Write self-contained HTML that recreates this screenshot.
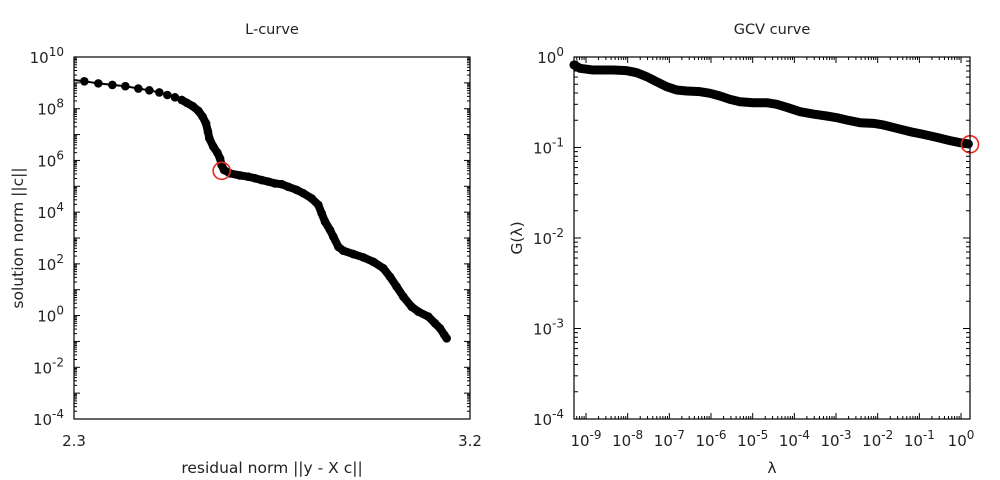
<!DOCTYPE html>
<html><head><meta charset="utf-8"><style>
html,body{margin:0;padding:0;background:#fff;}
svg{display:block;font-family:"DejaVu Sans","Liberation Sans",sans-serif;}
</style></head><body>
<svg id="c" width="1000" height="480" viewBox="0 0 1000 480">
<text x="272" y="34" font-size="14.5" text-anchor="middle" fill="#222">L-curve</text>
<text x="772" y="34" font-size="14.5" text-anchor="middle" fill="#222">GCV curve</text>
<text x="272" y="473" font-size="15.5" text-anchor="middle" fill="#222">residual norm ||y - X c||</text>
<text transform="translate(23,238) rotate(-90)" font-size="15.5" text-anchor="middle" fill="#222">solution norm ||c||</text>
<text x="772" y="473" font-size="15.5" text-anchor="middle" fill="#222">λ</text>
<text transform="translate(522,238) rotate(-90)" font-size="15.5" text-anchor="middle" fill="#222">G(λ)</text>
<g id="L"></g>
<g id="G"></g>
</svg>
<script>
// L-curve data: residual norm and log10 solution norm
const lResidual=[2.300,2.3235,2.3553,2.3871,2.4167,2.4462,2.4712,2.4939,2.5121,2.5295,2.5447,2.5561,2.5697,2.5826,2.5924,2.6000,2.6045,2.6076,2.6167,2.6258,2.6318,2.6356,2.6409,2.6545,2.6773,2.6962,2.7114,2.7265,2.7417,2.7568,2.7720,2.7871,2.8061,2.8212,2.8402,2.8553,2.8629,2.8705,2.8818,2.8894,2.9008,2.9121,2.9348,2.9576,2.9803,3.0030,3.0182,3.0333,3.0485,3.0674,3.0826,3.1053,3.1205,3.1318,3.1417,3.1470];
const lLogNorm=[9.11,9.06,8.98,8.92,8.87,8.78,8.71,8.63,8.53,8.44,8.34,8.23,8.10,7.92,7.69,7.43,7.11,6.85,6.53,6.30,6.08,5.82,5.63,5.50,5.42,5.37,5.31,5.24,5.18,5.11,5.08,4.98,4.86,4.73,4.53,4.28,3.95,3.63,3.31,3.05,2.66,2.51,2.38,2.25,2.08,1.83,1.50,1.12,0.73,0.34,0.15,-0.04,-0.30,-0.49,-0.75,-0.88];
const lKnee=[2.6356,5.60];
const lYTicks=[-4,-2,0,2,4,6,8,10];
const lXTicks=["2.3","3.2"];
// GCV data: log10 lambda and log10 G
const gLogLambda=[-9.288,-9.144,-8.824,-8.344,-8.024,-7.784,-7.544,-7.304,-7.064,-6.824,-6.584,-6.264,-6.024,-5.784,-5.544,-5.304,-4.984,-4.664,-4.424,-4.184,-3.864,-3.544,-3.224,-2.984,-2.744,-2.424,-2.104,-1.864,-1.544,-1.224,-0.904,-0.584,-0.264,-0.024,0.176];
const gLogG=[-0.088,-0.125,-0.144,-0.144,-0.151,-0.173,-0.217,-0.273,-0.328,-0.365,-0.376,-0.383,-0.401,-0.431,-0.468,-0.494,-0.505,-0.505,-0.523,-0.556,-0.604,-0.630,-0.652,-0.670,-0.696,-0.726,-0.733,-0.751,-0.788,-0.825,-0.855,-0.888,-0.924,-0.947,-0.961];
const gMin=[0.176,-0.965];
const gYTicks=[-4,-3,-2,-1,0];
const gXTicks=[-9,-8,-7,-6,-5,-4,-3,-2,-1,0];

const NS="http://www.w3.org/2000/svg";
function mk(p,t,a){const e=document.createElementNS(NS,t);for(const k in a)e.setAttribute(k,a[k]);p.appendChild(e);return e;}
function pow(p,x,y,exp,anchor){
  const t=mk(p,'text',{x:x,y:y,'font-size':15,fill:'#222','text-anchor':anchor});
  
  
  const a=mk(t,'tspan',{});a.textContent='10';
  const b=mk(t,'tspan',{dy:-7,'font-size':12});b.textContent=String(exp);
  return t;
}
// ---- L-curve ----
const L=document.getElementById('L');
const lx0=74,lx1=470,ly0=57,ly1=419;
const lxs=v=>lx0+(v-2.3)/(3.2-2.3)*(lx1-lx0);
const lys=v=>ly1-(v+4)/14*(ly1-ly0);
for(let d=-4;d<=10;d++){
  const y=lys(d);
  mk(L,'line',{x1:lx0,y1:y,x2:lx0+6,y2:y,stroke:'#000'});
  mk(L,'line',{x1:lx1,y1:y,x2:lx1-6,y2:y,stroke:'#000'});
  if(d<10)for(let m=2;m<=9;m++){const ym=lys(d+Math.log10(m));
    mk(L,'line',{x1:lx0,y1:ym,x2:lx0+3,y2:ym,stroke:'#000'});
    mk(L,'line',{x1:lx1,y1:ym,x2:lx1-3,y2:ym,stroke:'#000'});}
}
lYTicks.forEach(d=>pow(L,lx0-10,lys(d)+6,d,'end'));
lXTicks.forEach(s=>{const t=mk(L,'text',{x:lxs(parseFloat(s)),y:446,'font-size':15,fill:'#222','text-anchor':'middle'});t.textContent=s;
  
  });
let pts=lResidual.map((r,i)=>lxs(r)+','+lys(lLogNorm[i])).join(' ');
const lpl=mk(L,'polyline',{points:pts,fill:'none',stroke:'#000','stroke-width':2});


const lthick=mk(L,'polyline',{points:lResidual.slice(10).map((r,i)=>lxs(r)+','+lys(lLogNorm[i+10])).join(' '),fill:'none',stroke:'#000','stroke-width':8,'stroke-linejoin':'round','stroke-linecap':'round'});


lResidual.forEach((r,i)=>{if(i===0)return;const c=mk(L,'circle',{cx:lxs(r),cy:lys(lLogNorm[i]),r:4.3,fill:'#000'});
  
  });
const lk=mk(L,'circle',{cx:lxs(lKnee[0]),cy:lys(lKnee[1]),r:8.5,fill:'none',stroke:'#e8281e','stroke-width':1.6});


mk(L,'rect',{x:lx0,y:ly0,width:lx1-lx0,height:ly1-ly0,fill:'none',stroke:'#000','stroke-width':1.2});
// ---- GCV ----
const G=document.getElementById('G');
const gx0=574,gx1=970,gy0=57,gy1=419;
const gxs=v=>586+(v+9)*41.67;
const gys=v=>gy0-v*(gy1-gy0)/4;
for(let d=-4;d<=0;d++){
  const y=gys(d);
  mk(G,'line',{x1:gx0,y1:y,x2:gx0+7,y2:y,stroke:'#000'});
  mk(G,'line',{x1:gx1,y1:y,x2:gx1-7,y2:y,stroke:'#000'});
  if(d<0)for(let m=2;m<=9;m++){const ym=gys(d+Math.log10(m));
    mk(G,'line',{x1:gx0,y1:ym,x2:gx0+4,y2:ym,stroke:'#000'});
    mk(G,'line',{x1:gx1,y1:ym,x2:gx1-4,y2:ym,stroke:'#000'});}
}
for(let d=-10;d<=0;d++){
  const x=gxs(d);
  if(x>=gx0&&x<=gx1){mk(G,'line',{x1:x,y1:gy1,x2:x,y2:gy1-6,stroke:'#000'});mk(G,'line',{x1:x,y1:gy0,x2:x,y2:gy0+6,stroke:'#000'});}
  for(let m=2;m<=9;m++){const xm=gxs(d+Math.log10(m));if(xm<gx0||xm>gx1)continue;
    mk(G,'line',{x1:xm,y1:gy1,x2:xm,y2:gy1-3,stroke:'#000'});
    mk(G,'line',{x1:xm,y1:gy0,x2:xm,y2:gy0+3,stroke:'#000'});}
}
gYTicks.forEach(d=>pow(G,gx0-10,gys(d)+6,d,'end'));
gXTicks.forEach(d=>pow(G,gxs(d),446,d,'middle'));
const gpl=mk(G,'polyline',{points:gLogLambda.map((l,i)=>gxs(l)+','+gys(gLogG[i])).join(' '),fill:'none',stroke:'#000','stroke-width':9,'stroke-linejoin':'round','stroke-linecap':'round'});


const gk=mk(G,'circle',{cx:gx1,cy:gys(gMin[1]),r:8.5,fill:'none',stroke:'#e8281e','stroke-width':1.6});


mk(G,'rect',{x:gx0,y:gy0,width:gx1-gx0,height:gy1-gy0,fill:'none',stroke:'#000','stroke-width':1.2});
</script>
</body></html>
